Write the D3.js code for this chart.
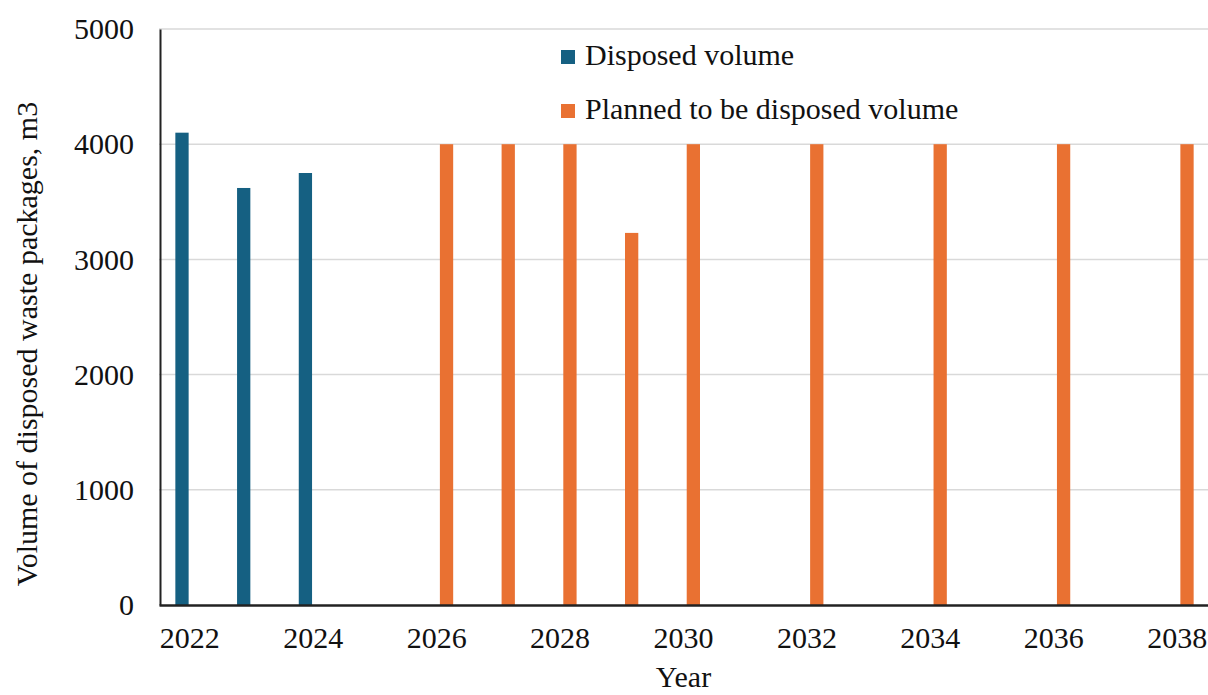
<!DOCTYPE html>
<html>
<head>
<meta charset="utf-8">
<script src="https://cdn.jsdelivr.net/npm/d3@7"></script>
<style>
    body { margin: 0; background: #fff; }
    svg text { font-family: "Liberation Serif", "Times New Roman", serif; fill: #111; }
</style>
</head>
<body>
<svg id="chart" width="1208" height="695"></svg>
<script>
// 数据
const years = [2022, 2023, 2024, 2025, 2026, 2027, 2028, 2029, 2030,
               2031, 2032, 2033, 2034, 2035, 2036, 2037, 2038];
const disposed = [4100, 3620, 3750, null, null, null, null, null, null,
                  null, null, null, null, null, null, null, null];
const planned = [null, null, null, null, 4000, 4000, 4000, 3230, 4000,
                 null, 4000, null, 4000, null, 4000, null, 4000];
const seriesNames = ['Disposed volume', 'Planned to be disposed volume'];
const seriesColors = ['#156082', '#e97132'];
const yTicks = [0, 1000, 2000, 3000, 4000, 5000];
const xLabels = [2022, 2024, 2026, 2028, 2030, 2032, 2034, 2036, 2038];

let svg = d3.select('#chart');
let margin = {left: 159, right: 0, top: 29, bottom: 90},
    width = 1208, height = 695;

// 比例尺
let x0 = d3.scaleBand()
    .domain(years)
    .range([margin.left, width - margin.right])
    .padding(0);
let x1 = d3.scaleBand()
    .domain(seriesNames)
    .range([0, 31])
    .paddingInner(0.25);
let y = d3.scaleLinear()
    .domain([0, 5000])
    .range([height - margin.bottom, margin.top]);

// 网格线
svg.append('g')
    .selectAll('line')
    .data(yTicks.filter(d => d > 0))
    .enter()
    .append('line')
    .attr('x1', margin.left)
    .attr('x2', width - margin.right)
    .attr('y1', d => y(d))
    .attr('y2', d => y(d))
    .attr('stroke', '#d9d9d9')
    .attr('stroke-width', 1.5);

// 柱子
let rows = years.map((yr, i) => ({year: yr, values: [disposed[i], planned[i]]}));
let groups = svg.append('g')
    .selectAll('g')
    .data(rows)
    .enter()
    .append('g')
    .attr('transform', d => 'translate(' + (x0(d.year) + x0.bandwidth() / 2 - 14.5) + ',0)');
groups.selectAll('rect')
    .data(d => d.values.map((v, k) => ({name: seriesNames[k], value: v, k: k})).filter(e => e.value != null))
    .enter()
    .append('rect')
    .attr('x', d => x1(d.name))
    .attr('width', x1.bandwidth())
    .attr('y', d => y(d.value))
    .attr('height', d => y(0) - y(d.value))
    .attr('fill', d => seriesColors[d.k]);

// y 轴
let yAxis = svg.append('g')
    .attr('transform', 'translate(' + (margin.left + 1) + ',0)')
    .call(d3.axisLeft(y).tickValues(yTicks).tickSize(0).tickPadding(26).tickFormat(d3.format('d')));
yAxis.select('.domain').attr('stroke', '#222').attr('stroke-width', 2);
yAxis.selectAll('text').attr('font-size', 30).attr('fill', '#111');

// x 轴
let xAxis = svg.append('g')
    .attr('transform', 'translate(0,' + y(0) + ')')
    .call(d3.axisBottom(x0).tickValues(xLabels).tickSize(0).tickPadding(22));
xAxis.select('.domain').attr('stroke', '#222').attr('stroke-width', 2.5);
xAxis.selectAll('text').attr('font-size', 30).attr('fill', '#111');

// 坐标轴标题
svg.append('text')
    .attr('transform', 'translate(37,' + 344 + ') rotate(-90)')
    .attr('text-anchor', 'middle')
    .attr('font-size', 30)
    .text('Volume of disposed waste packages, m3');
svg.append('text')
    .attr('x', (margin.left + width - margin.right) / 2)
    .attr('y', 687)
    .attr('text-anchor', 'middle')
    .attr('font-size', 30)
    .text('Year');

// 图例
let legend = svg.append('g')
    .selectAll('g')
    .data(seriesNames)
    .enter()
    .append('g')
    .attr('transform', (d, i) => 'translate(561,' + (65 + i * 54) + ')');
legend.append('rect')
    .attr('x', 0)
    .attr('y', -15)
    .attr('width', 14)
    .attr('height', 14)
    .attr('fill', (d, i) => seriesColors[i]);
legend.append('text')
    .attr('x', 24)
    .attr('y', 0)
    .attr('font-size', 30)
    .text(d => d);
</script>
</body>
</html>
